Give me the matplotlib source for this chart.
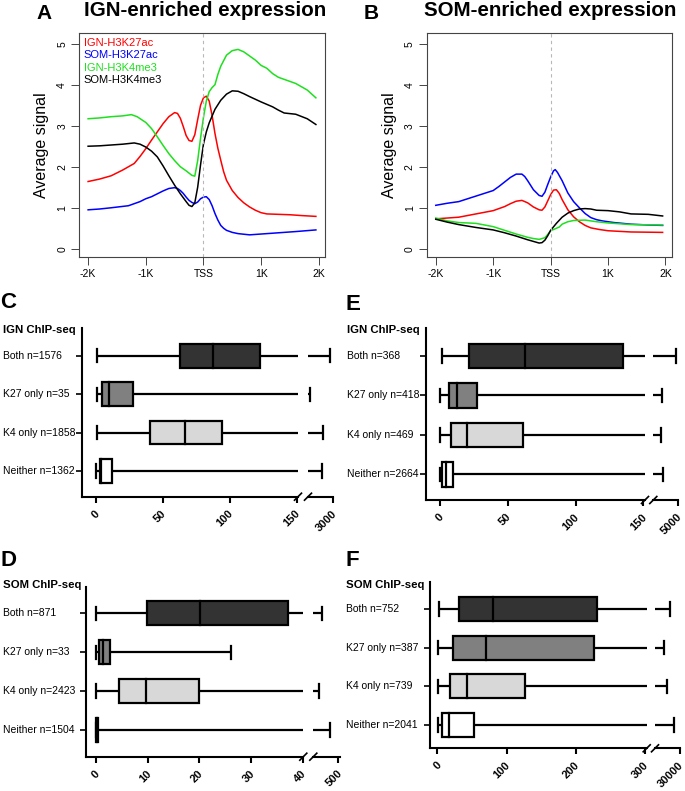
import numpy as np
import matplotlib
matplotlib.use("Agg")
import matplotlib.pyplot as plt
from matplotlib.transforms import blended_transform_factory, ScaledTranslation

plt.rcParams['font.family'] = ['Liberation Sans', 'DejaVu Sans']

W, H = 685, 791

# ---------------- profile data (A, B) ----------------
pos_labels = ['-2K', '-1K', 'TSS', '1K', '2K']
pos_ticks = [-2000, -1000, 0, 1000, 2000]
series_names = ['IGN-H3K27ac', 'SOM-H3K27ac', 'IGN-H3K4me3', 'SOM-H3K4me3']
series_colors = ['#ff0000', '#0000ff', '#1ee01e', '#000000']

# panel A
a_red_x = [-2000, -1800, -1600, -1400, -1200, -1100, -1000, -900, -800, -700, -600, -500, -450, -400, -350, -300, -250, -200, -150, -100, -50, 0, 50, 100, 150, 200, 250, 300, 350, 400, 500, 600, 700, 800, 900, 1000, 1100, 1300, 1500, 1700, 1950]
a_red_y = [1.64, 1.70, 1.78, 1.92, 2.08, 2.25, 2.44, 2.65, 2.85, 3.05, 3.22, 3.32, 3.30, 3.18, 2.98, 2.76, 2.64, 2.62, 2.78, 3.15, 3.5, 3.68, 3.72, 3.6, 3.25, 2.81, 2.45, 2.16, 1.88, 1.67, 1.42, 1.25, 1.12, 1.02, 0.94, 0.88, 0.85, 0.84, 0.83, 0.81, 0.79]
a_blue_x = [-2000, -1800, -1600, -1300, -1100, -1000, -900, -800, -700, -600, -500, -450, -400, -350, -300, -250, -200, -150, -100, -50, 0, 50, 100, 150, 200, 250, 300, 350, 400, 500, 600, 800, 1000, 1300, 1600, 1950]
a_blue_y = [0.95, 0.97, 1.0, 1.05, 1.15, 1.22, 1.27, 1.34, 1.41, 1.47, 1.49, 1.47, 1.42, 1.35, 1.26, 1.18, 1.13, 1.1, 1.14, 1.22, 1.26, 1.27, 1.2, 1.05, 0.86, 0.7, 0.57, 0.5, 0.45, 0.4, 0.37, 0.34, 0.36, 0.39, 0.42, 0.46]
a_green_x = [-2000, -1800, -1600, -1400, -1250, -1150, -1000, -900, -800, -700, -600, -500, -400, -300, -200, -150, -100, -50, 0, 50, 100, 150, 200, 250, 300, 400, 500, 600, 700, 800, 900, 1000, 1100, 1200, 1300, 1400, 1500, 1600, 1700, 1800, 1950]
a_green_y = [3.17, 3.19, 3.22, 3.24, 3.27, 3.22, 3.08, 2.93, 2.73, 2.52, 2.32, 2.15, 2.0, 1.9, 1.79, 1.77, 2.15, 2.7, 3.2, 3.6, 3.83, 3.93, 4.0, 4.25, 4.45, 4.72, 4.83, 4.86, 4.8, 4.7, 4.6, 4.47, 4.4, 4.27, 4.18, 4.13, 4.08, 4.03, 3.95, 3.87, 3.68]
a_black_x = [-2000, -1800, -1600, -1400, -1200, -1100, -1000, -900, -800, -700, -600, -500, -400, -300, -250, -200, -150, -100, -50, 0, 50, 100, 200, 300, 400, 500, 600, 700, 800, 1000, 1200, 1300, 1400, 1600, 1800, 1950]
a_black_y = [2.5, 2.51, 2.53, 2.55, 2.58, 2.55, 2.48, 2.38, 2.24, 2.02, 1.78, 1.55, 1.34, 1.15, 1.06, 1.03, 1.12, 1.5, 2.05, 2.55, 2.85, 3.07, 3.4, 3.62, 3.77, 3.85, 3.84, 3.78, 3.71, 3.58, 3.46, 3.38, 3.31, 3.28, 3.17, 3.03]

# panel B
b_red_x = [-2000, -1800, -1600, -1300, -1000, -800, -700, -600, -500, -400, -300, -200, -150, -100, -50, 0, 50, 100, 150, 200, 300, 400, 500, 600, 700, 850, 1000, 1400, 1950]
b_red_y = [0.73, 0.75, 0.77, 0.85, 0.93, 1.03, 1.1, 1.16, 1.18, 1.12, 1.02, 0.95, 0.94, 1.02, 1.17, 1.32, 1.43, 1.44, 1.35, 1.2, 0.95, 0.78, 0.66, 0.57, 0.51, 0.47, 0.44, 0.41, 0.4]
b_blue_x = [-2000, -1800, -1600, -1400, -1200, -1000, -900, -800, -700, -600, -500, -450, -400, -350, -300, -200, -150, -100, -50, 0, 50, 80, 120, 200, 300, 400, 500, 600, 700, 800, 900, 1100, 1400, 1700, 1950]
b_blue_y = [1.06, 1.11, 1.15, 1.24, 1.33, 1.42, 1.52, 1.63, 1.74, 1.82, 1.82, 1.76, 1.66, 1.55, 1.44, 1.3, 1.28, 1.38, 1.57, 1.75, 1.9, 1.93, 1.86, 1.66, 1.36, 1.15, 1.0, 0.86, 0.76, 0.71, 0.68, 0.64, 0.6, 0.58, 0.57]
b_green_x = [-2000, -1800, -1600, -1300, -1000, -800, -600, -400, -300, -200, -100, -50, 0, 100, 150, 200, 300, 400, 600, 800, 1000, 1400, 1950]
b_green_y = [0.75, 0.68, 0.64, 0.62, 0.54, 0.45, 0.36, 0.28, 0.25, 0.23, 0.27, 0.35, 0.44, 0.5, 0.53, 0.6, 0.66, 0.69, 0.7, 0.66, 0.63, 0.59, 0.58]
b_black_x = [-2000, -1800, -1600, -1300, -1000, -800, -600, -400, -300, -200, -150, -100, -50, 0, 100, 200, 300, 400, 500, 600, 700, 800, 1000, 1200, 1400, 1700, 1950]
b_black_y = [0.72, 0.65, 0.59, 0.52, 0.46, 0.39, 0.31, 0.22, 0.18, 0.14, 0.15, 0.21, 0.32, 0.45, 0.62, 0.77, 0.87, 0.93, 0.97, 0.98, 0.97, 0.94, 0.93, 0.9, 0.85, 0.84, 0.8]

# ---------------- box plot data (C-F) ----------------
box_colors = ['#333333', '#808080', '#d8d8d8', '#ffffff']

c_labels = ['Both n=1576', 'K27 only n=35', 'K4 only n=1858', 'Neither n=1362']
c_lo = [0.7, 0.7, 0.7, 0.2]
c_q1 = [63, 4.5, 40.5, 3.2]
c_med = [87.8, 10.1, 66.6, 4.0]
c_q3 = [123, 27.6, 94, 11.9]
c_hi = [2870, 2080, 2600, 2540]

e_labels = ['Both n=368', 'K27 only n=418', 'K4 only n=469', 'Neither n=2664']
e_lo = [1.2, 0, 0, 0]
e_q1 = [21.4, 6.9, 8.1, 1.7]
e_med = [62.7, 12.3, 19.7, 4.4]
e_q3 = [134.7, 27.5, 61.5, 9.8]
e_hi = [4816, 3670, 3620, 3800]

d_labels = ['Both n=871', 'K27 only n=33', 'K4 only n=2423', 'Neither n=1504']
d_lo = [0, 0, 0, 0]
d_q1 = [9.9, 0.6, 4.4, 0.05]
d_med = [20.1, 1.3, 9.6, 0.2]
d_q3 = [37.1, 2.7, 19.9, 0.45]
d_hi = [433, 26.1, 424, 467]

f_labels = ['Both n=752', 'K27 only n=387', 'K4 only n=739', 'Neither n=2041']
f_lo = [2.5, 0.5, 0.5, 0.5]
f_q1 = [31.8, 23, 19, 6.3]
f_med = [80, 70, 43.5, 17]
f_q3 = [231, 227, 127, 52.6]
f_hi = [26000, 23600, 24700, 27700]

fig = plt.figure(figsize=(W / 100, H / 100), dpi=100)


def px_axes(x0, y0, x1, y1):
    return fig.add_axes([x0 / W, 1 - y1 / H, (x1 - x0) / W, (y1 - y0) / H])


def profile(x0, x1, curves, letter, lx, title, tx, legend):
    ax = px_axes(x0, 33, x1, 257)
    for (xs, ys), col in zip(curves, series_colors):
        ax.plot(xs, ys, color=col, lw=1.1, solid_joinstyle='round')
    ax.axvline(0, color='#b8b8b8', lw=0.8, ls=(0, (3, 3)))
    ax.set_xlim(-2158, 2108)
    ax.set_ylim(-0.2, 5.26)
    ax.set_xticks(pos_ticks)
    ax.set_xticklabels(pos_labels, fontsize=7.5)
    ax.set_yticks([0, 1, 2, 3, 4, 5])
    ax.set_yticklabels(['0', '1', '2', '3', '4', '5'], fontsize=7.5, rotation=90, va='center')
    ax.tick_params(length=5.5, width=0.7, color='#444444', pad=3)
    for s in ax.spines.values():
        s.set_linewidth(0.8)
        s.set_color('#444444')
    ax.set_ylabel('Average signal', fontsize=11.5, labelpad=6)
    if legend:
        for i, (n, col) in enumerate(zip(series_names, series_colors)):
            ax.text(0.02, 0.955 - i * 0.055, n, color=col, fontsize=8,
                    transform=ax.transAxes, va='center', ha='left')
    fig.text(lx / W, 1 - 13.5 / H, letter, fontsize=15, fontweight='bold', va='center', ha='left')
    fig.text(tx / W, 1 - 10.5 / H, title, fontsize=14.8, fontweight='bold', va='center', ha='center')


profile(79, 325, [(a_red_x, a_red_y), (a_blue_x, a_blue_y), (a_green_x, a_green_y), (a_black_x, a_black_y)],
        'A', 36, 'IGN-enriched expression', 205, True)
profile(426.7, 671.7, [(b_red_x, b_red_y), (b_blue_x, b_blue_y), (b_green_x, b_green_y), (b_black_x, b_black_y)],
        'B', 364, 'SOM-enriched expression', 550, False)


def boxpanel(geo, lims, ticks1, ticks2, labels, lo, q1, med, q3, hi, letter, letter_xy, title, title_y, label_x):
    yx, s1, s2, s3, top, bot, r4, r1 = geo
    sp = (r1 - r4) / 3
    ylim = (1 - (bot - r1) / sp, 4 + (r4 - top) / sp)
    ax1 = px_axes(yx, top, s1, bot)
    ax2 = px_axes(s2, top, s3, bot)
    ax1.set_xlim(*lims[0])
    ax2.set_xlim(*lims[1])
    rows = [4, 3, 2, 1]
    for ax in (ax1, ax2):
        ax.set_ylim(*ylim)
        for s in ('top', 'right'):
            ax.spines[s].set_visible(False)
        ax.spines['bottom'].set_linewidth(1.5)
        ax.spines['left'].set_linewidth(1.5)
        ax.tick_params(axis='x', length=4, width=1.5, pad=4.5)
        for r, a, b, m, c, h, col in zip(rows, lo, q1, med, q3, hi, box_colors):
            lw = 1.6
            ax.plot([a, b], [r, r], color='black', lw=lw, solid_capstyle='butt')
            ax.plot([c, h], [r, r], color='black', lw=lw, solid_capstyle='butt')
            ax.plot([a, a], [r - 0.17, r + 0.17], color='black', lw=lw)
            ax.plot([h, h], [r - 0.17, r + 0.17], color='black', lw=lw)
            ax.add_patch(plt.Rectangle((b, r - 0.31), c - b, 0.62, facecolor=col,
                                       edgecolor='black', lw=lw, zorder=3))
            ax.plot([m, m], [r - 0.31, r + 0.31], color='black', lw=lw, zorder=4)
    ax2.spines['left'].set_visible(False)
    ax2.set_yticks([])
    ax1.set_yticks(rows)
    ax1.set_yticklabels([])
    ax1.tick_params(axis='y', length=4, width=1.2)
    ax1.set_xticks(ticks1)
    ax2.set_xticks(ticks2)
    off = ScaledTranslation(-1.5 / 100, 0, fig.dpi_scale_trans)
    for ax, tk in ((ax1, ticks1), (ax2, ticks2)):
        ax.set_xticklabels([str(t) for t in tk], rotation=45, ha='right', va='top',
                           rotation_mode='anchor', fontsize=8, fontweight='bold')
        for lab in ax.get_xticklabels():
            lab.set_transform(lab.get_transform() + off)
    # break marks
    for ax, xe in ((ax1, 1.0), (ax2, 0.0)):
        bb = ax.get_position()
        dx = 7 / (bb.width * W) / 2
        dy = 7 / (bb.height * H) / 2
        ax.plot([xe - dx, xe + dx], [-dy, dy], transform=ax.transAxes, color='black',
                lw=1.2, clip_on=False)
    tr = blended_transform_factory(fig.transFigure, ax1.transData)
    for r, lab in zip(rows, labels):
        fig.text(label_x / W, r, lab, transform=tr, fontsize=7.5, va='center', ha='left')
    fig.text(label_x / W, 1 - title_y / H, title, fontsize=8.2, fontweight='bold', va='center', ha='left')
    fig.text(letter_xy[0] / W, 1 - letter_xy[1] / H, letter, fontsize=16, fontweight='bold', va='center', ha='left')


boxpanel((81.7, 298, 308, 333.3, 328, 496.7, 355.7, 471), ((-10.5, 151), (2000, 3000)),
         [0, 50, 100, 150], [3000], c_labels, c_lo, c_q1, c_med, c_q3, c_hi,
         'C', (0, 302), 'IGN ChIP-seq', 330, 3)
boxpanel((425.7, 645, 653.3, 678.3, 328.3, 500, 356, 474.3), ((-10.5, 151.2), (3000, 5000)),
         [0, 50, 100, 150], [5000], e_labels, e_lo, e_q1, e_med, e_q3, e_hi,
         'E', (345, 305), 'IGN ChIP-seq', 330, 347)
boxpanel((86, 303.3, 313.3, 340, 586.7, 756.7, 613.3, 730), ((-1.93, 40.1), (400, 506.8)),
         [0, 10, 20, 30, 40], [500], d_labels, d_lo, d_q1, d_med, d_q3, d_hi,
         'D', (0, 560), 'SOM ChIP-seq', 585, 3)
boxpanel((430, 646.7, 655, 680, 581.7, 748.3, 609, 725), ((-10.5, 302.5), (20000, 30000)),
         [0, 100, 200, 300], [30000], f_labels, f_lo, f_q1, f_med, f_q3, f_hi,
         'F', (345, 560), 'SOM ChIP-seq', 585, 346)

fig.savefig('out.png', dpi=100)
